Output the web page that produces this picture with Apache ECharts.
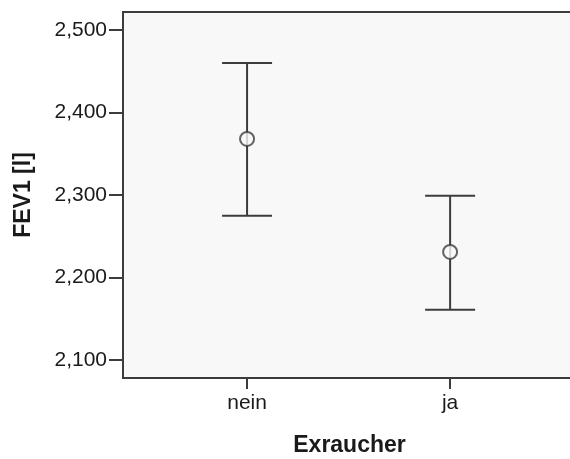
<!DOCTYPE html>
<html>
<head>
<meta charset="utf-8">
<script src="https://cdn.jsdelivr.net/npm/echarts@6/dist/echarts.min.js"></script>
<style>
  html, body { margin: 0; padding: 0; background: #ffffff; }
  #chart { width: 570px; height: 459px; }
</style>
</head>
<body>
<div id="chart"></div>
<script>
// Groups on the x axis and their positions on the value scale
const categories = ['nein', 'ja'];
const categoryPositions = [1, 2];

// FEV1 in litres: group means and 95% confidence interval bounds
const meanValues = [2.368, 2.231];
const lowerValues = [2.275, 2.161];
const upperValues = [2.460, 2.299];

// Y axis ticks (litres)
const yTicks = [2.1, 2.2, 2.3, 2.4, 2.5];

const fontFamily = '"Liberation Sans", Arial, sans-serif';
const inkColor = '#3c3c3c';

function formatLitre(v) {
  return v.toFixed(3).replace('.', ',');
}

const errorData = categoryPositions.map((x, i) => [x, lowerValues[i], upperValues[i]]);
const meanData = categoryPositions.map((x, i) => [x, meanValues[i]]);

const chart = echarts.init(document.getElementById('chart'), null, { renderer: 'canvas' });

chart.setOption({
  animation: false,
  backgroundColor: '#ffffff',
  grid: {
    left: 123,
    right: -6,
    top: 12,
    bottom: 81,
    outerBoundsMode: 'none',
    containLabel: false,
    show: true,
    backgroundColor: '#f8f8f8',
    borderColor: inkColor,
    borderWidth: 2
  },
  xAxis: {
    type: 'value',
    min: 0.389,
    max: 2.62,
    name: 'Exraucher',
    nameLocation: 'middle',
    nameGap: 56,
    nameTextStyle: { fontFamily, fontSize: 23, fontWeight: 'bold', color: '#1a1a1a' },
    splitLine: { show: false },
    axisLine: { show: true, onZero: false, lineStyle: { color: inkColor, width: 2 } },
    axisTick: { show: true, length: 11, customValues: categoryPositions, lineStyle: { color: inkColor, width: 2 } },
    axisLabel: {
      customValues: categoryPositions,
      margin: 15,
      fontFamily, fontSize: 21, color: '#1a1a1a',
      formatter: v => categories[categoryPositions.indexOf(v)] || ''
    }
  },
  yAxis: {
    type: 'value',
    min: 2.0782,
    max: 2.5218,
    name: 'FEV1 [l]',
    nameLocation: 'middle',
    nameGap: 88,
    nameTextStyle: { fontFamily, fontSize: 23, fontWeight: 'bold', color: '#1a1a1a' },
    splitLine: { show: false },
    axisLine: { show: true, lineStyle: { color: inkColor, width: 2 } },
    axisTick: { show: true, length: 14, customValues: yTicks, lineStyle: { color: inkColor, width: 2 } },
    axisLabel: {
      customValues: yTicks,
      margin: 16,
      fontFamily, fontSize: 21, color: '#1a1a1a',
      formatter: v => formatLitre(v)
    }
  },
  series: [
    {
      // confidence-interval whiskers with caps
      type: 'custom',
      data: errorData,
      encode: { x: 0, y: [1, 2] },
      renderItem: function (params, api) {
        const x = api.value(0);
        const lo = api.coord([x, api.value(1)]);
        const hi = api.coord([x, api.value(2)]);
        const half = 25;
        const style = { stroke: inkColor, lineWidth: 2, fill: null };
        return {
          type: 'group',
          children: [
            { type: 'line', shape: { x1: hi[0], y1: hi[1], x2: lo[0], y2: lo[1] }, style },
            { type: 'line', shape: { x1: hi[0] - half, y1: hi[1], x2: hi[0] + half, y2: hi[1] }, style },
            { type: 'line', shape: { x1: lo[0] - half, y1: lo[1], x2: lo[0] + half, y2: lo[1] }, style }
          ]
        };
      },
      z: 2
    },
    {
      // group means
      type: 'scatter',
      data: meanData,
      symbol: 'circle',
      symbolSize: 14,
      itemStyle: { color: '#f8f8f8', borderColor: inkColor, borderWidth: 2 },
      z: 3
    }
  ]
});
</script>
</body>
</html>
